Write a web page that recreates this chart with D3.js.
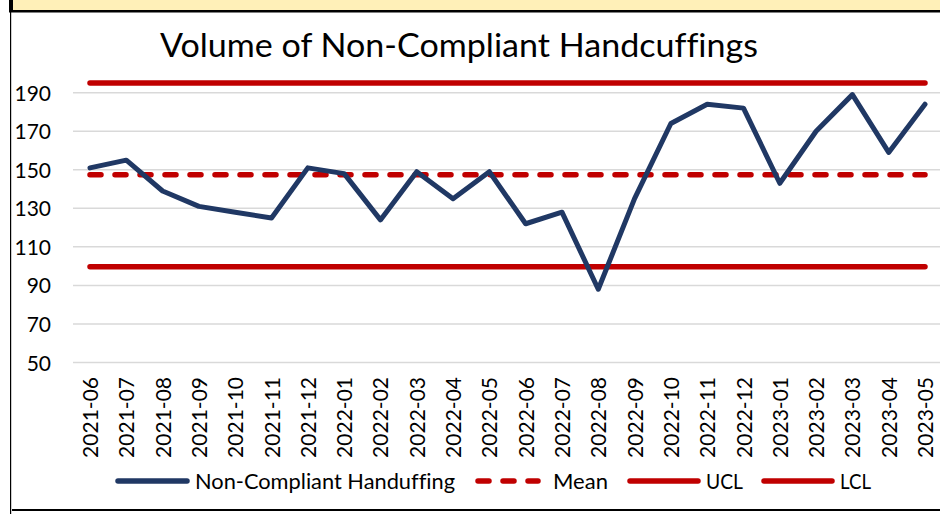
<!DOCTYPE html>
<html>
<head>
<meta charset="utf-8">
<script src="https://cdn.jsdelivr.net/npm/d3@7"></script>
<style>
  body { margin: 0; background: #fff; }
  svg { display: block; }
  text { font-family: Lato, "Open Sans", sans-serif; fill: #000; font-variant-ligatures: none; }
</style>
</head>
<body>
<svg id="chart" width="940" height="514"></svg>
<script>
const width = 940
const height = 514

// monthly counts
const months = ['2021-06','2021-07','2021-08','2021-09','2021-10','2021-11','2021-12',
  '2022-01','2022-02','2022-03','2022-04','2022-05','2022-06','2022-07','2022-08','2022-09',
  '2022-10','2022-11','2022-12','2023-01','2023-02','2023-03','2023-04','2023-05']
const counts = [151, 155, 139, 131, 128, 125, 151, 148, 124, 149, 135, 149,
  122, 128, 88, 135, 174, 184, 182, 143, 170, 189, 159, 184]

// control limits
const meanValue = 147.4
const uclValue = 195
const lclValue = 99.7

const yTicks = [50, 70, 90, 110, 130, 150, 170, 190]
const legendItems = ['Non-Compliant Handuffing', 'Mean', 'UCL', 'LCL']

const navy = '#203864'
const red = '#c00000'

const svg = d3.select('#chart')

// frame bits
svg.append('rect').attr('x', 12).attr('y', 0).attr('width', width - 12).attr('height', 10).attr('fill', '#fff0b8')
svg.append('rect').attr('x', 9).attr('y', 0).attr('width', 4).attr('height', 12).attr('fill', '#000')
svg.append('rect').attr('x', 9).attr('y', 10).attr('width', width - 9).attr('height', 2.5).attr('fill', '#000')
svg.append('rect').attr('x', 10).attr('y', 12).attr('width', 1.2).attr('height', height - 12).attr('fill', '#000')
svg.append('rect').attr('x', 12).attr('y', 509).attr('width', width - 12).attr('height', 2).attr('fill', '#000')

const x = d3.scalePoint()
  .domain(months)
  .range([90, 925])

const y = d3.scaleLinear()
  .domain([50, 190])
  .range([362.5, 92.7])

// title
svg.append('text')
  .attr('x', 459)
  .attr('y', 57)
  .attr('text-anchor', 'middle')
  .attr('font-size', 32)
  .attr('textLength', 598)
  .attr('lengthAdjust', 'spacingAndGlyphs')
  .text('Volume of Non-Compliant Handcuffings')

// gridlines
svg.append('g')
  .selectAll('line')
  .data(yTicks)
  .join('line')
  .attr('x1', 73)
  .attr('x2', width)
  .attr('y1', d => y(d))
  .attr('y2', d => y(d))
  .attr('stroke', '#d9d9d9')
  .attr('stroke-width', 1.5)

// y axis labels
const yAxis = d3.axisLeft(y).tickValues(yTicks).tickSize(0).tickPadding(0)
svg.append('g')
  .attr('transform', 'translate(51,0)')
  .call(yAxis)
  .call(g => g.select('.domain').remove())
  .call(g => g.selectAll('text')
    .attr('font-size', 21)
    .attr('font-family', 'Lato, sans-serif')
    .attr('fill', '#000')
    .attr('dy', '0.36em'))

// x axis labels (rotated)
const xAxis = d3.axisBottom(x).tickSize(0).tickPadding(0)
svg.append('g')
  .attr('transform', 'translate(0,377)')
  .call(xAxis)
  .call(g => g.select('.domain').remove())
  .call(g => g.selectAll('text')
    .attr('font-size', 21)
    .attr('font-family', 'Lato, sans-serif')
    .attr('fill', '#000')
    .attr('text-anchor', 'end')
    .attr('transform', 'rotate(-90)')
    .attr('x', 0)
    .attr('y', 0)
    .attr('dx', 0)
    .attr('dy', '0.36em'))

// control lines
const hLine = (v, dashed) => {
  svg.append('line')
    .attr('x1', x(months[0]))
    .attr('x2', x(months[months.length - 1]))
    .attr('y1', y(v))
    .attr('y2', y(v))
    .attr('stroke', red)
    .attr('stroke-width', 5.5)
    .attr('stroke-linecap', 'round')
    .attr('stroke-dasharray', dashed ? '11,14' : null)
}
hLine(uclValue, false)
hLine(lclValue, false)
hLine(meanValue, true)

// data series
const line = d3.line()
  .x((d, i) => x(months[i]))
  .y(d => y(d))

svg.append('path')
  .datum(counts)
  .attr('d', line)
  .attr('fill', 'none')
  .attr('stroke', navy)
  .attr('stroke-width', 5)
  .attr('stroke-linejoin', 'round')
  .attr('stroke-linecap', 'round')

// legend
const legendY = 481
const legendPos = [
  { x1: 118, x2: 187, tx: 195, tl: 260, color: navy, dash: null },
  { x1: 478, x2: 538, tx: 553, tl: 55, color: red, dash: '11,14' },
  { x1: 630, x2: 698, tx: 706, tl: 37, color: red, dash: null },
  { x1: 764, x2: 832, tx: 840, tl: 31, color: red, dash: null }
]
const legend = svg.append('g')
legendItems.forEach((name, i) => {
  const p = legendPos[i]
  legend.append('line')
    .attr('x1', p.x1).attr('x2', p.x2)
    .attr('y1', legendY).attr('y2', legendY)
    .attr('stroke', p.color)
    .attr('stroke-width', 5.5)
    .attr('stroke-linecap', 'round')
    .attr('stroke-dasharray', p.dash)
  legend.append('text')
    .attr('x', p.tx)
    .attr('y', legendY)
    .attr('dy', '0.36em')
    .attr('font-size', 21)
    .attr('textLength', p.tl)
    .attr('lengthAdjust', 'spacingAndGlyphs')
    .text(name)
})
</script>
</body>
</html>
